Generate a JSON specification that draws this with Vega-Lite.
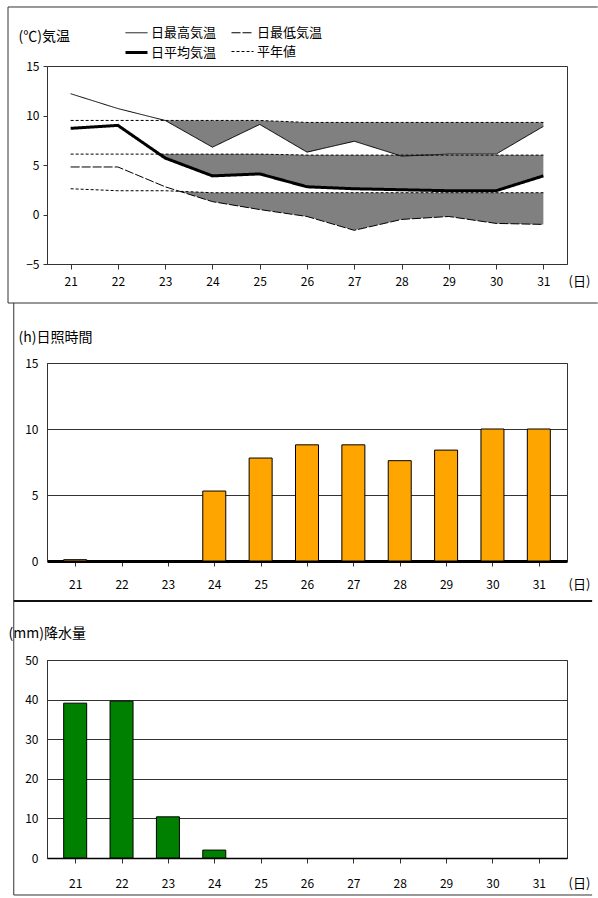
{
  "$schema": "https://vega.github.io/schema/vega-lite/v6.json",
  "padding": {"left": 7, "top": 5, "right": 0, "bottom": 1},
  "autosize": {"type": "pad"},
  "spacing": 99,
  "bounds": "flush",
  "background": "white",
  "config": {
    "view": {"stroke": "#333", "strokeWidth": 1},
    "font": "Noto Sans CJK JP",
    "axis": {"labelFont": "Noto Sans CJK JP", "labelFontSize": 12, "labelColor": "#000", "domainColor": "#333", "tickColor": "#333", "gridColor": "#333", "gridOpacity": 1, "titleColor": "#000", "titleFontWeight": "normal", "titleFont": "Noto Sans CJK JP", "labelOverlap": false, "labelFlush": false}
  },
  "vconcat": [
    {
      "width": 520,
      "height": 198,
      "layer": [
        {
          "data": {"values": [
            {"band": "max", "day": 23, "lo": 9.5, "hi": 9.5},
            {"band": "max", "day": 24, "lo": 6.8, "hi": 9.5},
            {"band": "max", "day": 25, "lo": 9.1, "hi": 9.5},
            {"band": "max", "day": 26, "lo": 6.3, "hi": 9.3},
            {"band": "max", "day": 27, "lo": 7.4, "hi": 9.3},
            {"band": "max", "day": 28, "lo": 5.9, "hi": 9.3},
            {"band": "max", "day": 29, "lo": 6.1, "hi": 9.3},
            {"band": "max", "day": 30, "lo": 6.1, "hi": 9.3},
            {"band": "max", "day": 31, "lo": 8.9, "hi": 9.3},
            {"band": "mean", "day": 22.88, "lo": 6.1, "hi": 6.1},
            {"band": "mean", "day": 23, "lo": 5.7, "hi": 6.1},
            {"band": "mean", "day": 24, "lo": 3.9, "hi": 6.1},
            {"band": "mean", "day": 25, "lo": 4.1, "hi": 6.1},
            {"band": "mean", "day": 26, "lo": 2.8, "hi": 6.0},
            {"band": "mean", "day": 27, "lo": 2.6, "hi": 6.0},
            {"band": "mean", "day": 28, "lo": 2.5, "hi": 6.0},
            {"band": "mean", "day": 29, "lo": 2.4, "hi": 6.0},
            {"band": "mean", "day": 30, "lo": 2.4, "hi": 6.0},
            {"band": "mean", "day": 31, "lo": 3.9, "hi": 6.0},
            {"band": "min", "day": 23.31, "lo": 2.34, "hi": 2.34},
            {"band": "min", "day": 24, "lo": 1.3, "hi": 2.2},
            {"band": "min", "day": 25, "lo": 0.5, "hi": 2.2},
            {"band": "min", "day": 26, "lo": -0.2, "hi": 2.2},
            {"band": "min", "day": 27, "lo": -1.6, "hi": 2.2},
            {"band": "min", "day": 28, "lo": -0.5, "hi": 2.2},
            {"band": "min", "day": 29, "lo": -0.2, "hi": 2.2},
            {"band": "min", "day": 30, "lo": -0.9, "hi": 2.2},
            {"band": "min", "day": 31, "lo": -1.0, "hi": 2.2}
          ]},
          "mark": {"type": "area", "color": "#808080", "opacity": 1},
          "encoding": {
            "x": {"field": "day", "type": "quantitative", "scale": {"domain": [20.5, 31.5], "nice": false, "zero": false},
                  "axis": {"values": [21,22,23,24,25,26,27,28,29,30,31], "format": "d", "grid": false, "tickSize": 5, "labelBaseline": "middle", "labelPadding": 12,
                           "title": "(日)", "titleX": 532, "titleY": 17, "titleAlign": "center", "titleBaseline": "middle", "titleFontSize": 13}},
            "y": {"field": "lo", "type": "quantitative", "scale": {"domain": [-5, 15], "nice": false, "zero": false},
                  "axis": {"values": [-5, 0, 5, 10, 15], "grid": false, "tickSize": 4, "labelPadding": 4,
                           "title": "(℃)気温", "titleAngle": 0, "titleAlign": "left", "titleBaseline": "middle", "titleX": -29, "titleY": -30, "titleFontSize": 14}},
            "y2": {"field": "hi"},
            "detail": {"field": "band"}
          }
        },
        {
          "data": {"values": [
            {"series": "max", "type": "日最高気温", "day": 21, "value": 12.2},
            {"series": "max", "type": "日最高気温", "day": 22, "value": 10.7},
            {"series": "max", "type": "日最高気温", "day": 23, "value": 9.5},
            {"series": "max", "type": "日最高気温", "day": 24, "value": 6.8},
            {"series": "max", "type": "日最高気温", "day": 25, "value": 9.1},
            {"series": "max", "type": "日最高気温", "day": 26, "value": 6.3},
            {"series": "max", "type": "日最高気温", "day": 27, "value": 7.4},
            {"series": "max", "type": "日最高気温", "day": 28, "value": 5.9},
            {"series": "max", "type": "日最高気温", "day": 29, "value": 6.1},
            {"series": "max", "type": "日最高気温", "day": 30, "value": 6.1},
            {"series": "max", "type": "日最高気温", "day": 31, "value": 8.9},
            {"series": "min", "type": "日最低気温", "day": 21, "value": 4.8},
            {"series": "min", "type": "日最低気温", "day": 22, "value": 4.8},
            {"series": "min", "type": "日最低気温", "day": 23, "value": 2.8},
            {"series": "min", "type": "日最低気温", "day": 24, "value": 1.3},
            {"series": "min", "type": "日最低気温", "day": 25, "value": 0.5},
            {"series": "min", "type": "日最低気温", "day": 26, "value": -0.2},
            {"series": "min", "type": "日最低気温", "day": 27, "value": -1.6},
            {"series": "min", "type": "日最低気温", "day": 28, "value": -0.5},
            {"series": "min", "type": "日最低気温", "day": 29, "value": -0.2},
            {"series": "min", "type": "日最低気温", "day": 30, "value": -0.9},
            {"series": "min", "type": "日最低気温", "day": 31, "value": -1.0},
            {"series": "mean", "type": "日平均気温", "day": 21, "value": 8.7},
            {"series": "mean", "type": "日平均気温", "day": 22, "value": 9.0},
            {"series": "mean", "type": "日平均気温", "day": 23, "value": 5.7},
            {"series": "mean", "type": "日平均気温", "day": 24, "value": 3.9},
            {"series": "mean", "type": "日平均気温", "day": 25, "value": 4.1},
            {"series": "mean", "type": "日平均気温", "day": 26, "value": 2.8},
            {"series": "mean", "type": "日平均気温", "day": 27, "value": 2.6},
            {"series": "mean", "type": "日平均気温", "day": 28, "value": 2.5},
            {"series": "mean", "type": "日平均気温", "day": 29, "value": 2.4},
            {"series": "mean", "type": "日平均気温", "day": 30, "value": 2.4},
            {"series": "mean", "type": "日平均気温", "day": 31, "value": 3.9},
            {"series": "nmax", "type": "平年値", "day": 21, "value": 9.5},
            {"series": "nmax", "type": "平年値", "day": 22, "value": 9.5},
            {"series": "nmax", "type": "平年値", "day": 23, "value": 9.5},
            {"series": "nmax", "type": "平年値", "day": 24, "value": 9.5},
            {"series": "nmax", "type": "平年値", "day": 25, "value": 9.5},
            {"series": "nmax", "type": "平年値", "day": 26, "value": 9.3},
            {"series": "nmax", "type": "平年値", "day": 27, "value": 9.3},
            {"series": "nmax", "type": "平年値", "day": 28, "value": 9.3},
            {"series": "nmax", "type": "平年値", "day": 29, "value": 9.3},
            {"series": "nmax", "type": "平年値", "day": 30, "value": 9.3},
            {"series": "nmax", "type": "平年値", "day": 31, "value": 9.3},
            {"series": "nmean", "type": "平年値", "day": 21, "value": 6.1},
            {"series": "nmean", "type": "平年値", "day": 22, "value": 6.1},
            {"series": "nmean", "type": "平年値", "day": 23, "value": 6.1},
            {"series": "nmean", "type": "平年値", "day": 24, "value": 6.1},
            {"series": "nmean", "type": "平年値", "day": 25, "value": 6.1},
            {"series": "nmean", "type": "平年値", "day": 26, "value": 6.0},
            {"series": "nmean", "type": "平年値", "day": 27, "value": 6.0},
            {"series": "nmean", "type": "平年値", "day": 28, "value": 6.0},
            {"series": "nmean", "type": "平年値", "day": 29, "value": 6.0},
            {"series": "nmean", "type": "平年値", "day": 30, "value": 6.0},
            {"series": "nmean", "type": "平年値", "day": 31, "value": 6.0},
            {"series": "nmin", "type": "平年値", "day": 21, "value": 2.6},
            {"series": "nmin", "type": "平年値", "day": 22, "value": 2.4},
            {"series": "nmin", "type": "平年値", "day": 23, "value": 2.4},
            {"series": "nmin", "type": "平年値", "day": 24, "value": 2.2},
            {"series": "nmin", "type": "平年値", "day": 25, "value": 2.2},
            {"series": "nmin", "type": "平年値", "day": 26, "value": 2.2},
            {"series": "nmin", "type": "平年値", "day": 27, "value": 2.2},
            {"series": "nmin", "type": "平年値", "day": 28, "value": 2.2},
            {"series": "nmin", "type": "平年値", "day": 29, "value": 2.2},
            {"series": "nmin", "type": "平年値", "day": 30, "value": 2.2},
            {"series": "nmin", "type": "平年値", "day": 31, "value": 2.2}
          ]},
          "mark": {"type": "line", "color": "black"},
          "encoding": {
            "x": {"field": "day", "type": "quantitative"},
            "y": {"field": "value", "type": "quantitative"},
            "detail": {"field": "series"},
            "strokeDash": {"field": "type", "type": "nominal",
              "scale": {"domain": ["日最高気温", "日最低気温", "日平均気温", "平年値"], "range": [[1, 0], [9, 2], [1, 0], [3, 2]]},
              "legend": {"orient": "none", "legendX": 77, "legendY": -45, "columns": 2, "direction": "horizontal", "title": null, "symbolType": "stroke", "symbolSize": 484, "symbolStrokeColor": "black", "labelFontSize": 13, "labelFont": "Noto Sans CJK JP", "labelColor": "#000", "columnPadding": 12, "rowPadding": -8, "labelOffset": 2}},
            "strokeWidth": {"field": "type", "type": "nominal",
              "scale": {"type": "ordinal", "domain": ["日最高気温", "日最低気温", "日平均気温", "平年値"], "range": [1, 1, 3, 1]},
              "legend": {"orient": "none", "legendX": 77, "legendY": -45, "columns": 2, "direction": "horizontal", "title": null, "symbolType": "stroke", "symbolSize": 484, "symbolStrokeColor": "black", "labelFontSize": 13, "labelFont": "Noto Sans CJK JP", "labelColor": "#000", "columnPadding": 12, "rowPadding": -8, "labelOffset": 2}}
          }
        },
        {
          "data": {"values": [{}]},
          "mark": {"type": "rule", "color": "#333", "strokeWidth": 1},
          "encoding": {"x": {"datum": 19.675, "type": "quantitative"}, "x2": {"datum": 32.15}, "y": {"datum": 20.96, "type": "quantitative"}}
        },
        {
          "data": {"values": [{}]},
          "mark": {"type": "rule", "color": "#333", "strokeWidth": 1},
          "encoding": {"x": {"datum": 19.675, "type": "quantitative"}, "x2": {"datum": 32.15}, "y": {"datum": -8.94, "type": "quantitative"}}
        },
        {
          "data": {"values": [{}]},
          "mark": {"type": "rule", "color": "#333", "strokeWidth": 1},
          "encoding": {"x": {"datum": 19.675, "type": "quantitative"}, "y": {"datum": 20.96, "type": "quantitative"}, "y2": {"datum": -8.94}}
        }
      ]
    },
    {
      "width": 520,
      "height": 198,
      "layer": [
        {
          "data": {"values": [
            {"day": 21, "hours": 0.1},
            {"day": 22, "hours": 0},
            {"day": 23, "hours": 0},
            {"day": 24, "hours": 5.3},
            {"day": 25, "hours": 7.8},
            {"day": 26, "hours": 8.8},
            {"day": 27, "hours": 8.8},
            {"day": 28, "hours": 7.6},
            {"day": 29, "hours": 8.4},
            {"day": 30, "hours": 10.0},
            {"day": 31, "hours": 10.0}
          ]},
          "mark": {"type": "bar", "size": 23, "color": "#FFA500", "stroke": "black", "strokeWidth": 1},
          "encoding": {
            "x": {"field": "day", "type": "quantitative", "scale": {"domain": [20.5, 31.5], "nice": false, "zero": false},
                  "axis": {"values": [21,22,23,24,25,26,27,28,29,30,31], "format": "d", "grid": false, "tickSize": 5, "labelBaseline": "middle", "labelPadding": 18, "domainWidth": 3, "domainColor": "#000",
                           "title": "(日)", "titleX": 532, "titleY": 23, "titleAlign": "center", "titleBaseline": "middle", "titleFontSize": 13}},
            "y": {"field": "hours", "type": "quantitative", "scale": {"domain": [0, 15], "nice": false},
                  "axis": {"values": [0, 5, 10, 15], "grid": true, "ticks": false, "labelPadding": 9,
                           "title": "(h)日照時間", "titleAngle": 0, "titleAlign": "left", "titleBaseline": "middle", "titleX": -29, "titleY": -26, "titleFontSize": 14}}
          }
        },
        {
          "data": {"values": [{}]},
          "mark": {"type": "rule", "color": "#333", "strokeWidth": 1},
          "encoding": {"x": {"datum": 19.675, "type": "quantitative"}, "y": {"datum": 19.545, "type": "quantitative"}, "y2": {"datum": -3.03}}
        },
        {
          "data": {"values": [{}]},
          "mark": {"type": "rule", "color": "#111", "strokeWidth": 2},
          "encoding": {"x": {"datum": 19.675, "type": "quantitative"}, "x2": {"datum": 32.15}, "y": {"datum": -3.03, "type": "quantitative"}}
        }
      ]
    },
    {
      "width": 520,
      "height": 198,
      "layer": [
        {
          "data": {"values": [
            {"day": 21, "precip": 39.1},
            {"day": 22, "precip": 39.6},
            {"day": 23, "precip": 10.4},
            {"day": 24, "precip": 2.0},
            {"day": 25, "precip": 0},
            {"day": 26, "precip": 0},
            {"day": 27, "precip": 0},
            {"day": 28, "precip": 0},
            {"day": 29, "precip": 0},
            {"day": 30, "precip": 0},
            {"day": 31, "precip": 0}
          ]},
          "mark": {"type": "bar", "size": 23, "color": "#008000", "stroke": "black", "strokeWidth": 1},
          "encoding": {
            "x": {"field": "day", "type": "quantitative", "scale": {"domain": [20.5, 31.5], "nice": false, "zero": false},
                  "axis": {"values": [21,22,23,24,25,26,27,28,29,30,31], "format": "d", "grid": false, "tickSize": 5, "labelBaseline": "middle", "labelPadding": 20, "domainWidth": 1.5, "domainColor": "#000",
                           "title": "(日)", "titleX": 532, "titleY": 25, "titleAlign": "center", "titleBaseline": "middle", "titleFontSize": 13}},
            "y": {"field": "precip", "type": "quantitative", "scale": {"domain": [0, 50], "nice": false},
                  "axis": {"values": [0, 10, 20, 30, 40, 50], "tickCount": 6, "grid": true, "ticks": false, "labelPadding": 9,
                           "title": "(mm)降水量", "titleAngle": 0, "titleAlign": "left", "titleBaseline": "middle", "titleX": -39, "titleY": -27, "titleFontSize": 14}},
            "strokeOpacity": {"condition": {"test": "datum.precip > 0", "value": 1}, "value": 0}
          }
        },
        {
          "data": {"values": [{}]},
          "mark": {"type": "rule", "color": "#333", "strokeWidth": 1},
          "encoding": {"x": {"datum": 19.675, "type": "quantitative"}, "y": {"datum": 64.9, "type": "quantitative"}, "y2": {"datum": -9.34}}
        },
        {
          "data": {"values": [{}]},
          "mark": {"type": "rule", "color": "#333", "strokeWidth": 1},
          "encoding": {"x": {"datum": 19.675, "type": "quantitative"}, "x2": {"datum": 32.15}, "y": {"datum": -9.34, "type": "quantitative"}}
        }
      ]
    }
  ]
}
